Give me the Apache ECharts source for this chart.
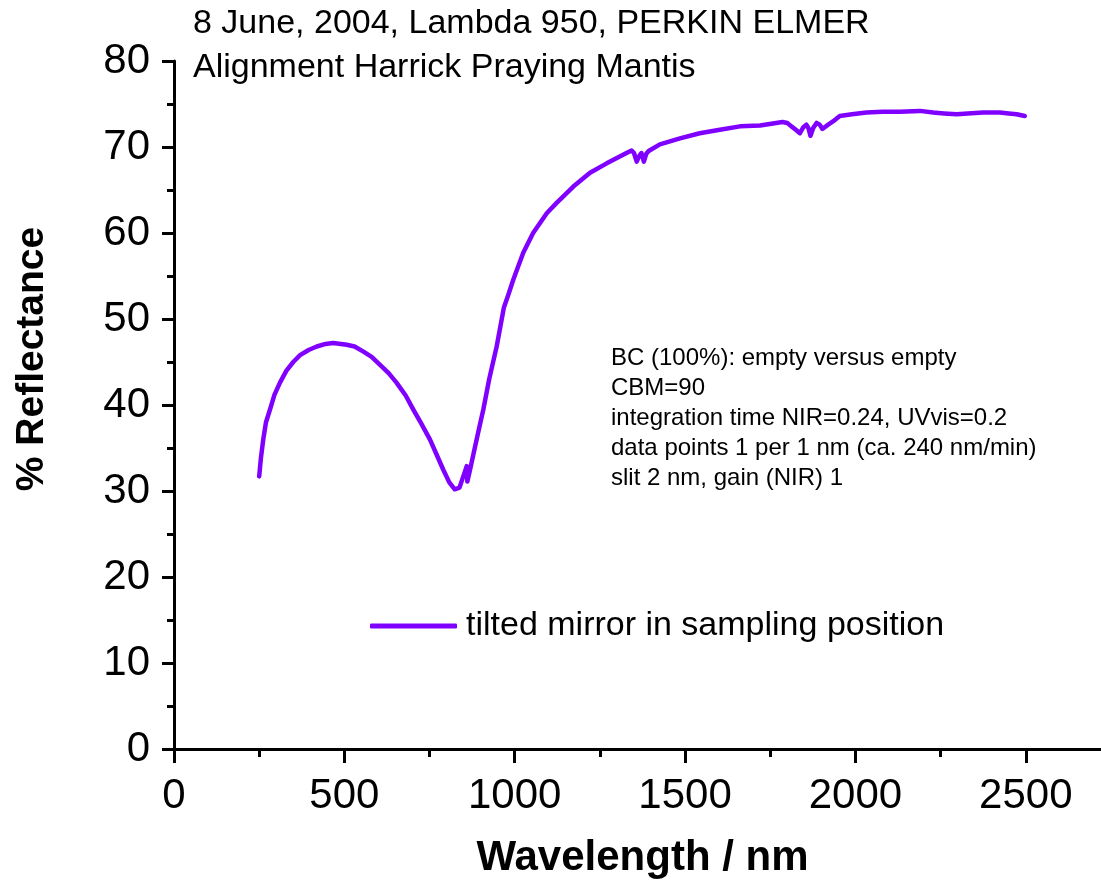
<!DOCTYPE html>
<html>
<head>
<meta charset="utf-8">
<script src="https://cdn.jsdelivr.net/npm/echarts@6/dist/echarts.min.js"></script>
<style>html,body{margin:0;padding:0;background:#fff;}#main{width:1101px;height:885px;}</style>
</head>
<body>
<div id="main"></div>
<script>
// Data
const wavelength = [250,255,262,270,282,295,311,330,350,370,395,419,445,467,490,507,530,556,580,604,630,653,680,702,725,751,770,790,808,824,838,849,855,859,861,864,869,880,895,908,925,947,968,981,996,1025,1054,1094,1123,1172,1221,1270,1328,1343,1350,1358,1366,1372,1379,1386,1392,1426,1485,1543,1602,1661,1720,1786,1800,1812,1825,1837,1847,1856,1862,1868,1876,1886,1895,1903,1920,1935,1954,1990,2032,2080,2130,2189,2228,2260,2297,2330,2375,2424,2450,2473,2497];
const reflectance = [31.7,33.8,36.0,38.0,39.5,41.2,42.6,44.0,45.0,45.8,46.4,46.8,47.1,47.2,47.1,47.0,46.8,46.2,45.6,44.7,43.7,42.6,41.1,39.5,37.9,36.0,34.3,32.5,31.0,30.2,30.4,31.7,32.4,32.9,31.1,31.2,32.5,34.5,37.2,39.5,43.0,46.8,51.3,52.8,54.6,57.7,60.0,62.3,63.5,65.4,67.0,68.1,69.3,69.6,69.3,68.3,69.0,69.3,68.3,69.2,69.5,70.3,71.0,71.6,72.0,72.4,72.5,72.9,72.8,72.4,72.0,71.6,72.3,72.6,72.2,71.3,72.2,72.8,72.6,72.1,72.6,73.0,73.6,73.8,74.0,74.1,74.1,74.2,74.0,73.9,73.8,73.9,74.0,74.0,73.9,73.8,73.6];
const seriesName = 'tilted mirror in sampling position';
const titleLines = ['8 June, 2004, Lambda 950, PERKIN ELMER', 'Alignment Harrick Praying Mantis'];
const noteLines = ['BC (100%): empty versus empty', 'CBM=90', 'integration time NIR=0.24, UVvis=0.2', 'data points 1 per 1 nm (ca. 240 nm/min)', 'slit 2 nm, gain (NIR) 1'];
const xTicks = [0, 500, 1000, 1500, 2000, 2500];

const FONT = '"Liberation Sans", Arial, sans-serif';
const chart = echarts.init(document.getElementById('main'), null, {renderer: 'canvas'});
const pts = wavelength.map((w, i) => [w, reflectance[i]]);

chart.setOption({
  backgroundColor: '#ffffff',
  animation: false,
  grid: {left: 174, top: 61, width: 937, height: 688, containLabel: false, outerBoundsMode: 'none'},
  xAxis: {
    type: 'value', min: 0, max: 2750, interval: 500,
    name: 'Wavelength / nm', nameLocation: 'middle', nameGap: 88,
    nameTextStyle: {fontFamily: FONT, fontSize: 42, fontWeight: 'bold', color: '#000'},
    axisLine: {show: true, onZero: false, lineStyle: {color: '#000', width: 3}},
    axisTick: {show: true, inside: false, length: 14, lineStyle: {color: '#000', width: 3}},
    minorTick: {show: true, splitNumber: 2, length: 8, lineStyle: {color: '#000', width: 3}},
    splitLine: {show: false},
    axisLabel: {fontFamily: FONT, fontSize: 42, color: '#000', margin: 26,
      formatter: v => xTicks.indexOf(v) >= 0 ? String(v) : ''}
  },
  yAxis: {
    type: 'value', min: 0, max: 80, interval: 10,
    name: '% Reflectance', nameLocation: 'middle', nameGap: 122,
    nameTextStyle: {fontFamily: FONT, fontSize: 39, fontWeight: 'bold', color: '#000', padding: [0, 0, 0, 92]},
    axisLine: {show: true, onZero: false, lineStyle: {color: '#000', width: 3}},
    axisTick: {show: true, inside: false, length: 12, lineStyle: {color: '#000', width: 3}},
    minorTick: {show: true, splitNumber: 2, length: 7, lineStyle: {color: '#000', width: 3}},
    splitLine: {show: false},
    axisLabel: {fontFamily: FONT, fontSize: 42, color: '#000', margin: 24}
  },
  legend: {
    show: true, left: 365, top: 604, orient: 'horizontal',
    icon: 'roundRect', itemWidth: 87, itemHeight: 5,
    textStyle: {fontFamily: FONT, fontSize: 34, color: '#000', padding: [0, 0, 0, 4]},
    data: [seriesName]
  },
  graphic: [
    {type: 'text', left: 193, top: 2, style: {text: titleLines.join('\n'), font: '34px ' + FONT, lineHeight: 44, fill: '#000'}},
    {type: 'text', left: 611, top: 343, style: {text: noteLines.join('\n'), font: '24px ' + FONT, lineHeight: 30, fill: '#000'}}
  ],
  series: [{
    name: seriesName, type: 'line', data: pts, showSymbol: false, symbol: 'none',
    smooth: false, clip: true,
    lineStyle: {color: '#8000FF', width: 4.5, cap: 'round', join: 'round'},
    itemStyle: {color: '#8000FF'}
  }]
});
</script>
</body>
</html>
